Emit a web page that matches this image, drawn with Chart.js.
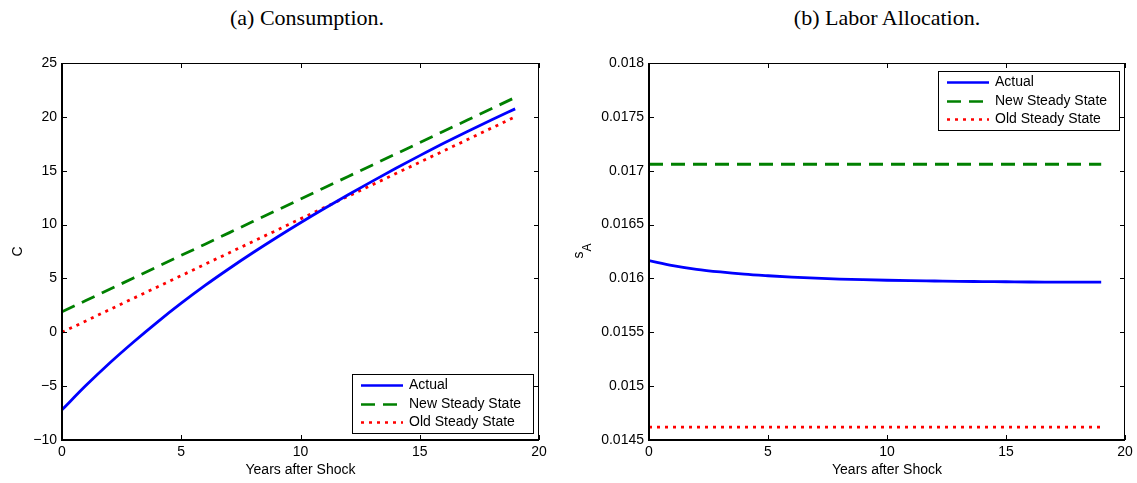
<!DOCTYPE html>
<html>
<head>
<meta charset="utf-8">
<script src="https://cdn.jsdelivr.net/npm/chart.js@4.4.1/dist/chart.umd.min.js"></script>
<style>
  body { margin: 0; background: #fff; width: 1137px; height: 483px; position: relative; overflow: hidden; }
  canvas { position: absolute; top: 0; }
  .title { position: absolute; top: 5px; font-family: "Liberation Serif", serif; font-size: 22px; transform: translateX(-50%); white-space: nowrap; color: #000; }
</style>
</head>
<body>
<div class="title" style="left:307px">(a) Consumption.</div>
<div class="title" style="left:887px">(b) Labor Allocation.</div>
<canvas id="cons" width="560" height="483" style="left:0"></canvas>
<canvas id="labor" width="577" height="483" style="left:560px"></canvas>
<script>
// years after the shock
const years = [0, 1, 2, 3, 4, 5, 6, 7, 8, 9, 10, 11, 12, 13, 14, 15, 16, 17, 18, 19];

// (a) consumption
const consActual = [-7.2, -4.95, -2.85, -0.9, 0.95, 2.7, 4.35, 5.9, 7.38, 8.8, 10.17, 11.49, 12.77, 14.01, 15.22, 16.40, 17.55, 18.65, 19.71, 20.74];
const consNew = [1.90, 2.95, 3.99, 5.04, 6.09, 7.14, 8.18, 9.23, 10.28, 11.32, 12.37, 13.42, 14.47, 15.51, 16.56, 17.61, 18.66, 19.70, 20.75, 21.80];
const consOld = [0, 1.05, 2.11, 3.16, 4.21, 5.26, 6.32, 7.37, 8.42, 9.47, 10.53, 11.58, 12.63, 13.68, 14.74, 15.79, 16.84, 17.89, 18.95, 20.0];

// (b) labor allocation s_A
const laborActual = [0.016165, 0.016120, 0.016085, 0.016060, 0.016040, 0.016025, 0.016012, 0.016002, 0.015994, 0.015988,
                     0.015983, 0.015979, 0.015976, 0.015973, 0.015971, 0.015969, 0.015967, 0.015966, 0.015965, 0.015965];
const laborNew = [0.01706, 0.01706, 0.01706, 0.01706, 0.01706, 0.01706, 0.01706, 0.01706, 0.01706, 0.01706,
                  0.01706, 0.01706, 0.01706, 0.01706, 0.01706, 0.01706, 0.01706, 0.01706, 0.01706, 0.01706];
const laborOld = [0.01462, 0.01462, 0.01462, 0.01462, 0.01462, 0.01462, 0.01462, 0.01462, 0.01462, 0.01462,
                  0.01462, 0.01462, 0.01462, 0.01462, 0.01462, 0.01462, 0.01462, 0.01462, 0.01462, 0.01462];

const seriesLabels = ['Actual', 'New Steady State', 'Old Steady State'];
const xTicks = { min: 0, max: 20, step: 5 };
const consTicks = { min: -10, max: 25, step: 5 };
const laborTicks = { min: 0.0145, max: 0.018, step: 0.0005 };

const FONT = '"Liberation Sans", Arial, sans-serif';
Chart.defaults.color = '#000';
Chart.defaults.font.family = FONT;
Chart.defaults.font.size = 14;

const styles = [
  { borderColor: '#0000ff', borderDash: [], cubicInterpolationMode: 'monotone' },
  { borderColor: '#008000', borderDash: [14, 8] },
  { borderColor: '#ff0000', borderDash: [3, 5] }
];

// matlab-like box with inward ticks + boxed legend
const axesBox = {
  id: 'axesBox',
  afterDraw(chart, args, opts) {
    const { ctx, chartArea: a, scales } = chart;
    const tl = 5;
    ctx.save();
    ctx.strokeStyle = '#000';
    ctx.lineWidth = 1;
    ctx.beginPath();
    scales.x.ticks.forEach(t => {
      const px = Math.round(scales.x.getPixelForValue(t.value)) + 0.5;
      ctx.moveTo(px, a.bottom); ctx.lineTo(px, a.bottom - tl);
      ctx.moveTo(px, a.top); ctx.lineTo(px, a.top + tl);
    });
    scales.y.ticks.forEach(t => {
      const py = Math.round(scales.y.getPixelForValue(t.value)) + 0.5;
      ctx.moveTo(a.left, py); ctx.lineTo(a.left + tl, py);
      ctx.moveTo(a.right, py); ctx.lineTo(a.right - tl, py);
    });
    ctx.moveTo(a.left, a.top + 0.5); ctx.lineTo(a.right, a.top + 0.5);
    ctx.moveTo(a.right - 0.5, a.top); ctx.lineTo(a.right - 0.5, a.bottom);
    ctx.stroke();
    ctx.lineWidth = 2;
    ctx.beginPath();
    ctx.moveTo(a.left, a.top); ctx.lineTo(a.left, a.bottom);
    ctx.lineTo(a.right, a.bottom);
    ctx.stroke();

    // legend
    const w = 181, h = 59;
    const right = a.right - 6;
    const left = right - w;
    const top = opts.legend === 'top' ? a.top + 8 : a.bottom - 7 - h;
    ctx.fillStyle = '#fff';
    ctx.fillRect(left, top, w, h);
    ctx.lineWidth = 1;
    ctx.strokeRect(left + 0.5, top + 0.5, w, h);
    ctx.font = '14px ' + FONT;
    ctx.textBaseline = 'middle';
    chart.data.datasets.forEach((ds, i) => {
      const cy = Math.round(top + 11.4 + i * 18.3) + 0.5;
      ctx.strokeStyle = ds.borderColor;
      ctx.lineWidth = 2.5;
      ctx.setLineDash(ds.borderDash);
      ctx.beginPath();
      ctx.moveTo(left + 9, cy); ctx.lineTo(left + 51, cy);
      ctx.stroke();
      ctx.setLineDash([]);
      ctx.fillStyle = '#000';
      ctx.fillText(ds.label, left + 57, cy);
    });

    // subscripted y title
    if (opts.subTitle) {
      const px = a.left - 66, py = (a.top + a.bottom) / 2 + 7;
      ctx.translate(px, py);
      ctx.rotate(-Math.PI / 2);
      ctx.textBaseline = 'alphabetic';
      ctx.fillStyle = '#000';
      ctx.font = '14px ' + FONT;
      ctx.fillText(opts.subTitle[0], 0, 0);
      const sw = ctx.measureText(opts.subTitle[0]).width;
      ctx.font = '12px ' + FONT;
      ctx.fillText(opts.subTitle[1], sw, 8);
    }
    ctx.restore();
  }
};

function makeChart(id, series, yt, yWidth, padRight, yTitle, legendPos, fmt) {
  return new Chart(document.getElementById(id), {
    type: 'line',
    data: {
      datasets: series.map((arr, i) => Object.assign({
        label: seriesLabels[i],
        data: years.map((x, j) => ({ x: x, y: arr[j] })),
        borderWidth: 2.8,
        borderCapStyle: 'butt',
        pointRadius: 0,
        fill: false
      }, styles[i]))
    },
    options: {
      responsive: false,
      animation: false,
      devicePixelRatio: 1,
      layout: { padding: { top: 63, right: padRight, left: 0, bottom: 0 } },
      plugins: {
        legend: { display: false },
        tooltip: { enabled: false },
        axesBox: { legend: legendPos, subTitle: typeof yTitle === 'string' ? null : yTitle }
      },
      scales: {
        x: {
          type: 'linear', min: xTicks.min, max: xTicks.max,
          ticks: { stepSize: xTicks.step, padding: 4, maxRotation: 0 },
          grid: { display: false, drawTicks: false },
          border: { display: false },
          title: { display: true, text: 'Years after Shock', padding: { top: 0, bottom: 4 } },
          afterFit: s => { s.height = 43; }
        },
        y: {
          type: 'linear', min: yt.min, max: yt.max,
          ticks: { stepSize: yt.step, padding: 5, callback: fmt },
          grid: { display: false, drawTicks: false },
          border: { display: false },
          title: { display: typeof yTitle === 'string', text: yTitle, padding: { top: 10, bottom: 0 } },
          afterFit: s => { s.width = yWidth; }
        }
      }
    },
    plugins: [axesBox]
  });
}

makeChart('cons', [consActual, consNew, consOld], consTicks, 62, 21, 'C', 'bottom',
  v => String(v).replace('-', '\u2212'));
makeChart('labor', [laborActual, laborNew, laborOld], laborTicks, 89, 12, ['s', 'A'], 'top',
  v => String(+v.toFixed(4)));
</script>
</body>
</html>
